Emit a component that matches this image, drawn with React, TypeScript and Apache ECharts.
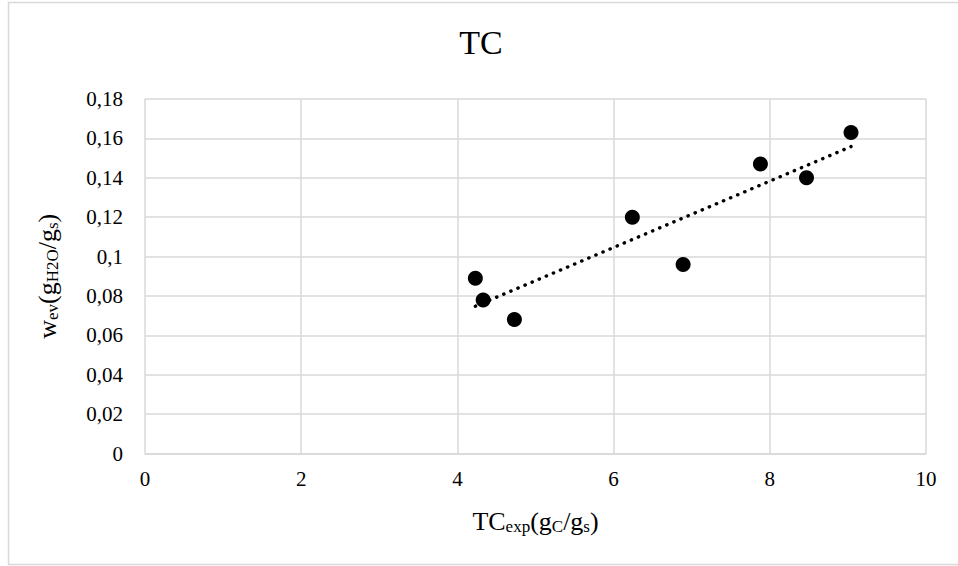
import React, { useEffect, useRef } from "react";
import * as echarts from "echarts";

const xValues: number[] = [4.23, 4.33, 4.73, 6.24, 6.89, 7.88, 8.47, 9.04];
const yValues: number[] = [0.089, 0.078, 0.068, 0.12, 0.096, 0.147, 0.14, 0.163];
const xTicks = { min: 0, max: 10, interval: 2 };
const yTicks = { min: 0, max: 0.18, interval: 0.02 };
const titleText = "TC";

function regression(xs: number[], ys: number[]) {
  const n = xs.length;
  const mx = xs.reduce((a, b) => a + b, 0) / n;
  const my = ys.reduce((a, b) => a + b, 0) / n;
  let sxy = 0;
  let sxx = 0;
  for (let i = 0; i < n; i++) {
    sxy += (xs[i] - mx) * (ys[i] - my);
    sxx += (xs[i] - mx) * (xs[i] - mx);
  }
  const slope = sxy / sxx;
  const intercept = my - slope * mx;
  return { slope, intercept };
}

export default function App() {
  const ref = useRef<HTMLDivElement>(null);
  useEffect(() => {
    if (!ref.current) return;
    const chart = echarts.init(ref.current, undefined, { renderer: "svg" });
    const { slope, intercept } = regression(xValues, yValues);
    const x0 = Math.min(...xValues);
    const x1 = Math.max(...xValues);
    const trend = [
      [x0, intercept + slope * x0],
      [x1, intercept + slope * x1],
    ];
    const font = "Liberation Serif";
    const rich = {
      m: { fontFamily: font, fontSize: 26, color: "#000" },
      s: { fontFamily: font, fontSize: 17, color: "#000", padding: [10, 0, 0, 0] },
    };
    chart.setOption({
      animation: false,
      backgroundColor: "#fff",
      graphic: [
        {
          type: "rect",
          shape: { x: 8.5, y: 2.5, width: 962, height: 562 },
          style: { fill: "none", stroke: "#d9d9d9", lineWidth: 1.5 },
          silent: true,
        },
        {
          type: "text",
          x: 481,
          y: 42,
          style: {
            text: titleText,
            font: `34px "${font}"`,
            fill: "#000",
            textAlign: "center",
            textVerticalAlign: "middle",
          },
        },
      ],
      grid: { left: 145, right: 32, top: 99, bottom: 112.5 },
      xAxis: {
        type: "value",
        min: xTicks.min,
        max: xTicks.max,
        interval: xTicks.interval,
        name: "{m|TC}{s|exp}{m|(g}{s|C}{m|/g}{s|s}{m|)}",
        nameLocation: "middle",
        nameGap: 54,
        nameTextStyle: { rich },
        axisLine: { show: true, lineStyle: { color: "#d9d9d9", width: 1.5 } },
        axisTick: { show: false },
        axisLabel: { fontFamily: font, fontSize: 21, color: "#000", margin: 15 },
        splitLine: { show: true, lineStyle: { color: "#d9d9d9", width: 1.5 } },
      },
      yAxis: {
        type: "value",
        min: yTicks.min,
        max: yTicks.max,
        interval: yTicks.interval,
        name: "{m|w}{s|ev}{m|(g}{s|H2O}{m|/g}{s|s}{m|)}",
        nameLocation: "middle",
        nameRotate: 90,
        nameGap: 84,
        nameTextStyle: { rich },
        axisLine: { show: false },
        axisTick: { show: false },
        axisLabel: {
          fontFamily: font,
          fontSize: 21,
          color: "#000",
          margin: 22,
          formatter: (v: number) => String(+v.toFixed(2)).replace(".", ","),
        },
        splitLine: { show: true, lineStyle: { color: "#d9d9d9", width: 1.5 } },
      },
      series: [
        {
          type: "scatter",
          data: xValues.map((x, i) => [x, yValues[i]]),
          symbol: "circle",
          symbolSize: 15,
          itemStyle: { color: "#000", opacity: 1 },
          z: 2,
        },
        {
          type: "line",
          data: trend,
          symbol: "none",
          lineStyle: { color: "#000", width: 3.4, type: [0.3, 7.4], cap: "round", opacity: 1 },
          z: 3,
        },
      ],
    });
    return () => chart.dispose();
  }, []);
  return (
    <div
      ref={ref}
      style={{ position: "absolute", left: 0, top: 0, width: 958, height: 566 }}
    />
  );
}
